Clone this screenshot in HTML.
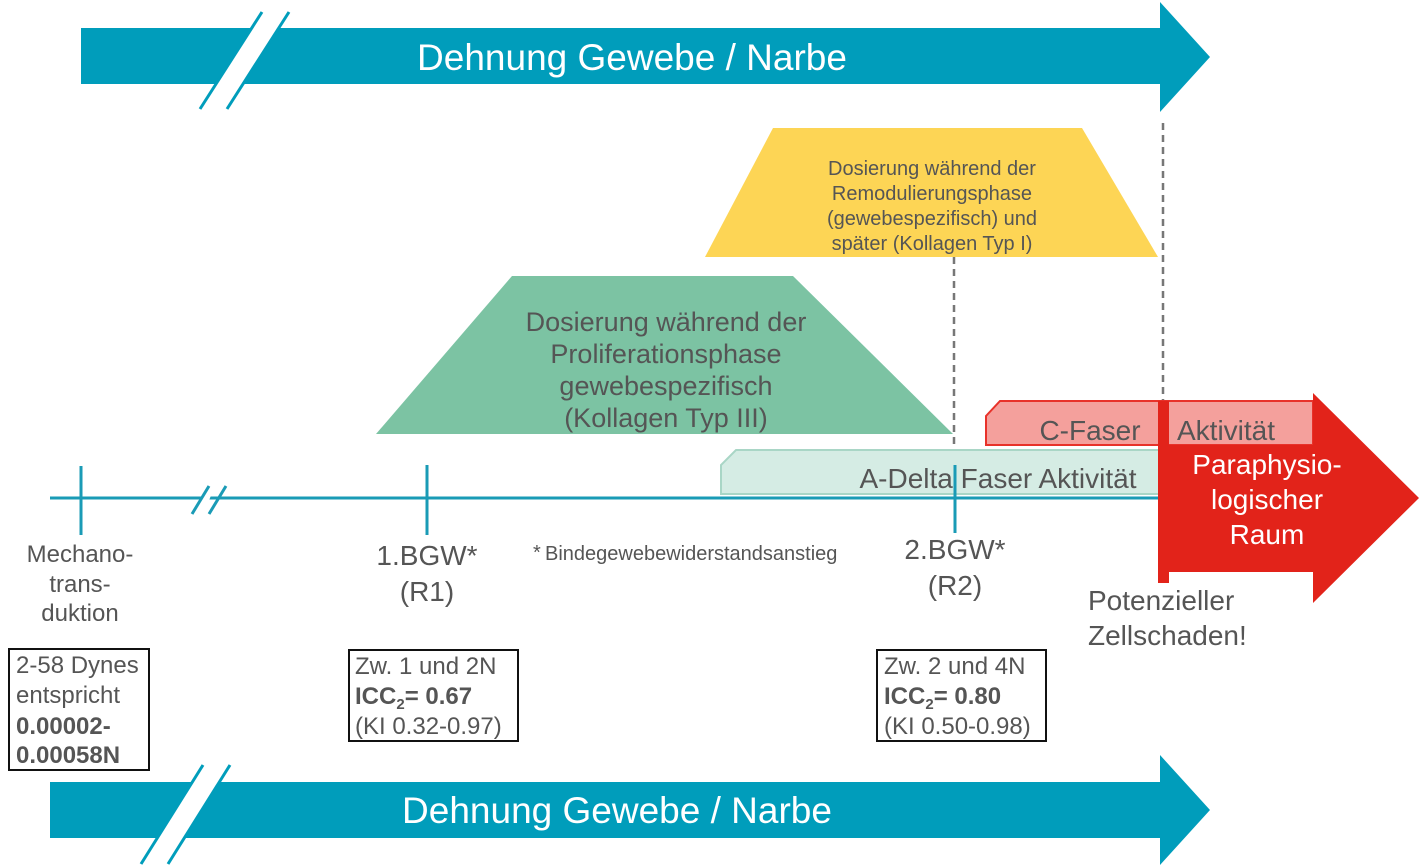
<!DOCTYPE html>
<html><head><meta charset="utf-8"><style>
html,body{margin:0;padding:0;background:#fff;}
svg{display:block;font-family:"Liberation Sans",Arial,sans-serif;}
</style></head><body>
<svg width="1420" height="867" viewBox="0 0 1420 867" xmlns="http://www.w3.org/2000/svg">
<!-- top arrow -->
<polygon points="81,28 1160,28 1160,2 1210,57 1160,112 1160,84 81,84" fill="#009dbb"/>
<polygon points="262,12 289,12 227,109 200,109" fill="#fff"/>
<line x1="262" y1="12" x2="200" y2="109" stroke="#009dbb" stroke-width="3"/>
<line x1="289" y1="12" x2="227" y2="109" stroke="#009dbb" stroke-width="3"/>
<text x="632" y="70" font-size="37" fill="#fff" text-anchor="middle">Dehnung Gewebe / Narbe</text>

<!-- bottom arrow -->
<polygon points="50,782 1160,782 1160,755 1210,810 1160,865 1160,838 50,838" fill="#009dbb"/>
<polygon points="203,765 230,765 168,864 141,864" fill="#fff"/>
<line x1="203" y1="765" x2="141" y2="864" stroke="#009dbb" stroke-width="3"/>
<line x1="230" y1="765" x2="168" y2="864" stroke="#009dbb" stroke-width="3"/>
<text x="617" y="823" font-size="37" fill="#fff" text-anchor="middle">Dehnung Gewebe / Narbe</text>

<!-- yellow trapezoid -->
<polygon points="773,128 1082,128 1158,257 705,257" fill="#fdd555"/>
<g font-size="20" fill="#555" text-anchor="middle">
<text x="932" y="175">Dosierung während der</text>
<text x="932" y="200">Remodulierungsphase</text>
<text x="932" y="225">(gewebespezifisch)  und</text>
<text x="932" y="250">später (Kollagen Typ I)</text>
</g>

<!-- green trapezoid -->
<polygon points="512,276 793,276 953,434 376,434" fill="#7cc3a3"/>
<g font-size="27" fill="#555" text-anchor="middle">
<text x="666" y="331">Dosierung während der</text>
<text x="666" y="363">Proliferationsphase</text>
<text x="666" y="395">gewebespezifisch</text>
<text x="666" y="427">(Kollagen Typ III)</text>
</g>

<!-- dashed lines -->
<line x1="954" y1="257" x2="954" y2="448" stroke="#777" stroke-width="2.5" stroke-dasharray="7,5"/>
<line x1="1163" y1="123" x2="1163" y2="400" stroke="#777" stroke-width="2.5" stroke-dasharray="7,5"/>

<!-- C-Faser -->
<polygon points="1000,401 1313,401 1313,445 986,445 986,416" fill="#f4a09c" stroke="#e8322a" stroke-width="2"/>
<text x="1090" y="440" font-size="28" fill="#555" text-anchor="middle">C-Faser</text>
<text x="1226" y="440" font-size="28" fill="#555" text-anchor="middle">Aktivität</text>

<!-- A-Delta -->
<polygon points="736,450 1163,450 1163,494 721,494 721,465" fill="#d5ece4" stroke="#a9d6c6" stroke-width="2"/>
<text x="998" y="488" font-size="28" fill="#555" text-anchor="middle">A-Delta Faser Aktivität</text>

<!-- axis -->
<line x1="50" y1="498" x2="1165" y2="498" stroke="#1a9bb6" stroke-width="3"/>
<polygon points="205,488 214,488 206,508 197,508" fill="#fff"/>
<line x1="209" y1="486" x2="192" y2="514" stroke="#1a9bb6" stroke-width="3"/>
<line x1="226" y1="486" x2="209" y2="514" stroke="#1a9bb6" stroke-width="3"/>
<line x1="81" y1="466" x2="81" y2="535" stroke="#1a9bb6" stroke-width="3"/>
<line x1="427" y1="465" x2="427" y2="535" stroke="#1a9bb6" stroke-width="3"/>
<line x1="955" y1="465" x2="955" y2="533" stroke="#1a9bb6" stroke-width="3"/>

<!-- red arrow -->
<polygon points="1163,445 1313,445 1313,393 1419,498 1313,603 1313,572 1169,572 1169,583 1158,583 1158,401 1163,401" fill="#e2231a"/>
<rect x="1158" y="401" width="11" height="182" fill="#e2231a"/>
<g font-size="28" fill="#fff" text-anchor="middle">
<text x="1267" y="474">Paraphysio-</text>
<text x="1267" y="509">logischer</text>
<text x="1267" y="544">Raum</text>
</g>

<!-- labels -->
<g font-size="24" fill="#555" text-anchor="middle">
<text x="80" y="562">Mechano-</text>
<text x="80" y="592">trans-</text>
<text x="80" y="621">duktion</text>
</g>
<g font-size="28" fill="#555" text-anchor="middle">
<text x="427" y="565">1.BGW*</text>
<text x="427" y="601">(R1)</text>
<text x="955" y="559">2.BGW*</text>
<text x="955" y="595">(R2)</text>
</g>
<text x="533" y="559" font-size="20" fill="#555">*</text>
<text x="545" y="560" font-size="20" fill="#555">Bindegewebewiderstandsanstieg</text>
<g font-size="28" fill="#555">
<text x="1088" y="610">Potenzieller</text>
<text x="1088" y="645">Zellschaden!</text>
</g>

<!-- boxes -->
<rect x="9" y="649" width="140" height="121" fill="#fff" stroke="#111" stroke-width="2"/>
<g font-size="24" fill="#555">
<text x="16" y="673">2-58 Dynes</text>
<text x="16" y="703">entspricht</text>
<text x="16" y="734" font-weight="bold">0.00002-</text>
<text x="16" y="763" font-weight="bold">0.00058N</text>
</g>
<rect x="349" y="650" width="169" height="91" fill="#fff" stroke="#111" stroke-width="2"/>
<g font-size="24" fill="#555">
<text x="355" y="674">Zw. 1 und 2N</text>
<text x="355" y="704" font-weight="bold">ICC<tspan font-size="15" dy="5">2</tspan><tspan dy="-5">= 0.67</tspan></text>
<text x="355" y="734">(KI 0.32-0.97)</text>
</g>
<rect x="877" y="650" width="169" height="91" fill="#fff" stroke="#111" stroke-width="2"/>
<g font-size="24" fill="#555">
<text x="884" y="674">Zw. 2 und 4N</text>
<text x="884" y="704" font-weight="bold">ICC<tspan font-size="15" dy="5">2</tspan><tspan dy="-5">= 0.80</tspan></text>
<text x="884" y="734">(KI 0.50-0.98)</text>
</g>
</svg>
</body></html>
